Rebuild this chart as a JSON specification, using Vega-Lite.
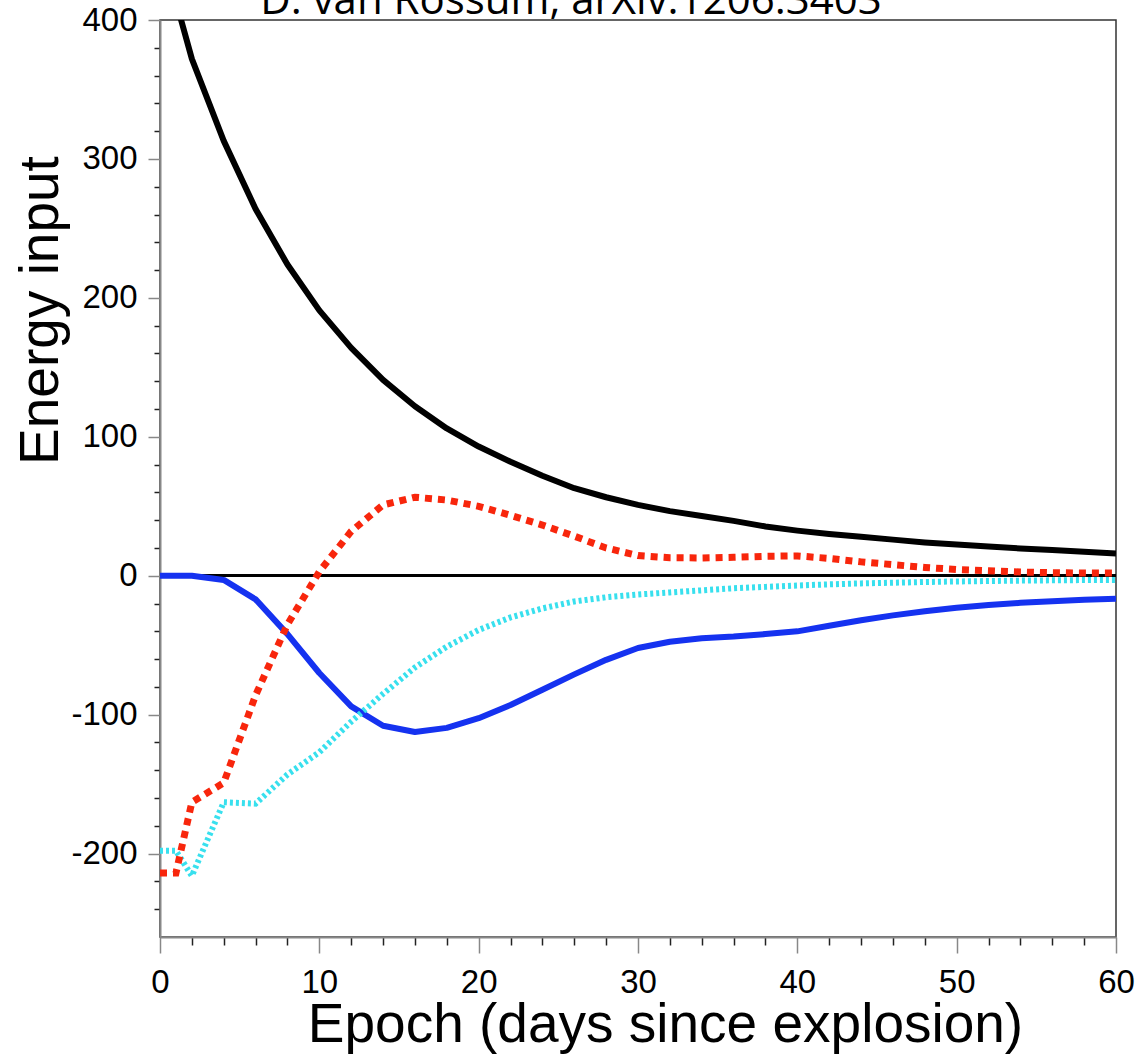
{
  "$schema": "https://vega.github.io/schema/vega-lite/v6.json",
  "autosize": {"type": "none"},
  "padding": {"left": 160, "top": 20, "right": 24, "bottom": 120},
  "width": 956,
  "height": 917,
  "background": "white",
  "config": {
    "view": {"stroke": "#333333", "strokeWidth": 1.5},
    "axis": {
      "grid": false,
      "domainColor": "#888888",
      "domainWidth": 2,
      "labelFont": "Liberation Sans",
      "labelFontSize": 33,
      "labelColor": "black",
      "titleFont": "Liberation Sans",
      "titleFontSize": 55,
      "titleFontWeight": "normal",
      "titleColor": "black",
      "tickWidth": 1.5,
      "labelOverlap": false,
      "labelFlush": false
    }
  },
  "title": {
    "text": "D. van Rossum,  arXiv:1206.3403",
    "font": "Open Sans",
    "fontSize": 42,
    "fontWeight": "normal",
    "color": "black",
    "anchor": "middle",
    "frame": "group",
    "baseline": "alphabetic",
    "offset": 0,
    "dx": -67,
    "dy": 52
  },
  "datasets": {
    "curves": [
      {"day": 0, "series": "solid_black", "value": 455},
      {"day": 2, "series": "solid_black", "value": 372},
      {"day": 4, "series": "solid_black", "value": 313},
      {"day": 6, "series": "solid_black", "value": 264},
      {"day": 8, "series": "solid_black", "value": 224},
      {"day": 10, "series": "solid_black", "value": 191},
      {"day": 12, "series": "solid_black", "value": 164},
      {"day": 14, "series": "solid_black", "value": 141},
      {"day": 16, "series": "solid_black", "value": 122},
      {"day": 18, "series": "solid_black", "value": 106},
      {"day": 20, "series": "solid_black", "value": 93},
      {"day": 22, "series": "solid_black", "value": 82},
      {"day": 24, "series": "solid_black", "value": 72},
      {"day": 26, "series": "solid_black", "value": 63},
      {"day": 28, "series": "solid_black", "value": 56.5},
      {"day": 30, "series": "solid_black", "value": 51},
      {"day": 32, "series": "solid_black", "value": 46.5},
      {"day": 34, "series": "solid_black", "value": 43},
      {"day": 36, "series": "solid_black", "value": 39.5},
      {"day": 38, "series": "solid_black", "value": 35.5},
      {"day": 40, "series": "solid_black", "value": 32.5},
      {"day": 42, "series": "solid_black", "value": 30},
      {"day": 44, "series": "solid_black", "value": 28},
      {"day": 46, "series": "solid_black", "value": 26},
      {"day": 48, "series": "solid_black", "value": 24},
      {"day": 50, "series": "solid_black", "value": 22.5},
      {"day": 52, "series": "solid_black", "value": 21},
      {"day": 54, "series": "solid_black", "value": 19.7},
      {"day": 56, "series": "solid_black", "value": 18.5},
      {"day": 58, "series": "solid_black", "value": 17.2},
      {"day": 60, "series": "solid_black", "value": 16},

      {"day": 0, "series": "solid_blue", "value": 0},
      {"day": 2, "series": "solid_blue", "value": 0},
      {"day": 4, "series": "solid_blue", "value": -3},
      {"day": 6, "series": "solid_blue", "value": -17},
      {"day": 8, "series": "solid_blue", "value": -42},
      {"day": 10, "series": "solid_blue", "value": -70},
      {"day": 12, "series": "solid_blue", "value": -94},
      {"day": 14, "series": "solid_blue", "value": -108},
      {"day": 16, "series": "solid_blue", "value": -112.5},
      {"day": 18, "series": "solid_blue", "value": -109.5},
      {"day": 20, "series": "solid_blue", "value": -102.5},
      {"day": 22, "series": "solid_blue", "value": -93},
      {"day": 24, "series": "solid_blue", "value": -82},
      {"day": 26, "series": "solid_blue", "value": -71},
      {"day": 28, "series": "solid_blue", "value": -60.5},
      {"day": 30, "series": "solid_blue", "value": -52},
      {"day": 32, "series": "solid_blue", "value": -47.5},
      {"day": 34, "series": "solid_blue", "value": -45},
      {"day": 36, "series": "solid_blue", "value": -43.8},
      {"day": 38, "series": "solid_blue", "value": -42},
      {"day": 40, "series": "solid_blue", "value": -40},
      {"day": 42, "series": "solid_blue", "value": -36},
      {"day": 44, "series": "solid_blue", "value": -32},
      {"day": 46, "series": "solid_blue", "value": -28.5},
      {"day": 48, "series": "solid_blue", "value": -25.5},
      {"day": 50, "series": "solid_blue", "value": -23},
      {"day": 52, "series": "solid_blue", "value": -21},
      {"day": 54, "series": "solid_blue", "value": -19.5},
      {"day": 56, "series": "solid_blue", "value": -18.3},
      {"day": 58, "series": "solid_blue", "value": -17.3},
      {"day": 60, "series": "solid_blue", "value": -16.5},

      {"day": 0, "series": "dotted_cyan", "value": -198},
      {"day": 1, "series": "dotted_cyan", "value": -198},
      {"day": 2, "series": "dotted_cyan", "value": -216},
      {"day": 4, "series": "dotted_cyan", "value": -163},
      {"day": 6, "series": "dotted_cyan", "value": -164},
      {"day": 8, "series": "dotted_cyan", "value": -143},
      {"day": 10, "series": "dotted_cyan", "value": -127},
      {"day": 12, "series": "dotted_cyan", "value": -105},
      {"day": 14, "series": "dotted_cyan", "value": -85},
      {"day": 16, "series": "dotted_cyan", "value": -66},
      {"day": 18, "series": "dotted_cyan", "value": -51},
      {"day": 20, "series": "dotted_cyan", "value": -39},
      {"day": 22, "series": "dotted_cyan", "value": -30},
      {"day": 24, "series": "dotted_cyan", "value": -23.5},
      {"day": 26, "series": "dotted_cyan", "value": -18.5},
      {"day": 28, "series": "dotted_cyan", "value": -15.5},
      {"day": 30, "series": "dotted_cyan", "value": -13.5},
      {"day": 32, "series": "dotted_cyan", "value": -12},
      {"day": 34, "series": "dotted_cyan", "value": -10.5},
      {"day": 36, "series": "dotted_cyan", "value": -9},
      {"day": 38, "series": "dotted_cyan", "value": -8},
      {"day": 40, "series": "dotted_cyan", "value": -7},
      {"day": 42, "series": "dotted_cyan", "value": -6.2},
      {"day": 44, "series": "dotted_cyan", "value": -5.5},
      {"day": 46, "series": "dotted_cyan", "value": -5},
      {"day": 48, "series": "dotted_cyan", "value": -4.5},
      {"day": 50, "series": "dotted_cyan", "value": -4.1},
      {"day": 52, "series": "dotted_cyan", "value": -3.8},
      {"day": 54, "series": "dotted_cyan", "value": -3.5},
      {"day": 56, "series": "dotted_cyan", "value": -3.3},
      {"day": 58, "series": "dotted_cyan", "value": -3.1},
      {"day": 60, "series": "dotted_cyan", "value": -3},

      {"day": 0, "series": "dotted_red", "value": -214},
      {"day": 1, "series": "dotted_red", "value": -214},
      {"day": 2, "series": "dotted_red", "value": -163},
      {"day": 4, "series": "dotted_red", "value": -149},
      {"day": 6, "series": "dotted_red", "value": -86},
      {"day": 8, "series": "dotted_red", "value": -35},
      {"day": 10, "series": "dotted_red", "value": 3},
      {"day": 12, "series": "dotted_red", "value": 32},
      {"day": 14, "series": "dotted_red", "value": 51},
      {"day": 16, "series": "dotted_red", "value": 56.5},
      {"day": 18, "series": "dotted_red", "value": 54.5},
      {"day": 20, "series": "dotted_red", "value": 50},
      {"day": 22, "series": "dotted_red", "value": 43.5},
      {"day": 24, "series": "dotted_red", "value": 36.5},
      {"day": 26, "series": "dotted_red", "value": 28.5},
      {"day": 28, "series": "dotted_red", "value": 20},
      {"day": 30, "series": "dotted_red", "value": 14.5},
      {"day": 32, "series": "dotted_red", "value": 13},
      {"day": 34, "series": "dotted_red", "value": 12.8},
      {"day": 36, "series": "dotted_red", "value": 13.3},
      {"day": 38, "series": "dotted_red", "value": 14},
      {"day": 40, "series": "dotted_red", "value": 14.3},
      {"day": 42, "series": "dotted_red", "value": 12.5},
      {"day": 44, "series": "dotted_red", "value": 10},
      {"day": 46, "series": "dotted_red", "value": 8},
      {"day": 48, "series": "dotted_red", "value": 6},
      {"day": 50, "series": "dotted_red", "value": 4.5},
      {"day": 52, "series": "dotted_red", "value": 3.6},
      {"day": 54, "series": "dotted_red", "value": 2.7},
      {"day": 56, "series": "dotted_red", "value": 2.2},
      {"day": 58, "series": "dotted_red", "value": 2},
      {"day": 60, "series": "dotted_red", "value": 1.9}
    ]
  },
  "data": {"name": "curves"},
  "encoding": {
    "x": {
      "field": "day",
      "type": "quantitative",
      "scale": {"domain": [0, 60], "nice": false, "zero": false},
      "axis": {
        "title": "Epoch (days since explosion)",
        "titleX": 505,
        "titleY": 104,
        "titleBaseline": "alphabetic",
        "titleAlign": "center",
        "values": [0, 2, 4, 6, 8, 10, 12, 14, 16, 18, 20, 22, 24, 26, 28, 30, 32, 34, 36, 38, 40, 42, 44, 46, 48, 50, 52, 54, 56, 58, 60],
        "labelExpr": "datum.value % 10 === 0 ? datum.label : ''",
        "tickSize": {"condition": {"test": "datum.value % 10 === 0", "value": 16}, "value": 8},
        "tickColor": {"condition": {"test": "datum.value % 10 === 0", "value": "#888888"}, "value": "#222222"},
        "labelBaseline": "alphabetic",
        "labelPadding": 39
      }
    },
    "y": {
      "field": "value",
      "type": "quantitative",
      "scale": {"domain": [-260, 400], "nice": false, "zero": false},
      "axis": {
        "title": "Energy input",
        "titleX": -103,
        "titleY": 290,
        "titleBaseline": "alphabetic",
        "titleAlign": "center",
        "values": [-240, -220, -200, -180, -160, -140, -120, -100, -80, -60, -40, -20, 0, 20, 40, 60, 80, 100, 120, 140, 160, 180, 200, 220, 240, 260, 280, 300, 320, 340, 360, 380, 400],
        "labelExpr": "datum.value % 100 === 0 ? toString(datum.value) : ''",
        "tickSize": {"condition": {"test": "datum.value % 100 === 0", "value": 12}, "value": 6},
        "tickColor": {"condition": {"test": "datum.value % 100 === 0", "value": "#888888"}, "value": "#222222"},
        "labelPadding": 11,
        "labelBaseline": "middle"
      }
    }
  },
  "layer": [
    {
      "mark": {"type": "rule", "color": "black", "strokeWidth": 2},
      "encoding": {"y": {"datum": 0}, "x": {"value": 0}, "x2": {"value": 956}}
    },
    {
      "transform": [{"filter": "datum.series === 'solid_black'"}],
      "mark": {"type": "line", "color": "black", "strokeWidth": 6, "clip": true, "strokeJoin": "round"}
    },
    {
      "transform": [{"filter": "datum.series === 'solid_blue'"}],
      "mark": {"type": "line", "color": "#1532f0", "strokeWidth": 6, "clip": true, "strokeJoin": "round"}
    },
    {
      "transform": [{"filter": "datum.series === 'dotted_cyan'"}],
      "mark": {"type": "line", "color": "#38e0ee", "strokeWidth": 6, "strokeDash": [3, 3], "clip": true}
    },
    {
      "transform": [{"filter": "datum.series === 'dotted_red'"}],
      "mark": {"type": "line", "color": "#f8260c", "strokeWidth": 7, "strokeDash": [7, 6], "clip": true}
    }
  ]
}
